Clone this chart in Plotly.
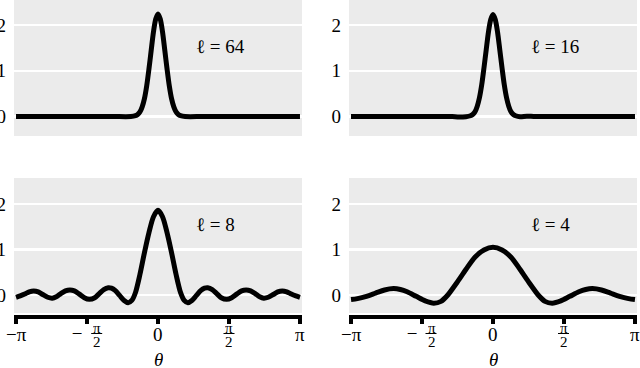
import plotly.graph_objects as go

# ---- data ----
theta_64 = [-3.1416, -2.0, -1.0, -0.6, -0.5, -0.45, -0.4, -0.35, -0.3, -0.25, -0.2, -0.15, -0.1, -0.05, 0.0,
            0.05, 0.1, 0.15, 0.2, 0.25, 0.3, 0.35, 0.4, 0.45, 0.5, 0.6, 1.0, 2.0, 3.1416]
k_64 = [0.0, 0.0, 0.0, 0.0, 0.018, 0.045, 0.10, 0.21, 0.39, 0.67, 1.04, 1.45, 1.85, 2.13, 2.24,
        2.13, 1.85, 1.45, 1.04, 0.67, 0.39, 0.21, 0.10, 0.045, 0.018, 0.0, 0.0, 0.0, 0.0]

theta_16 = [-3.1416, -2.0, -1.0, -0.9, -0.75, -0.6, -0.5, -0.45, -0.4, -0.35, -0.3, -0.25, -0.2, -0.15, -0.1, -0.05, 0.0,
            0.05, 0.1, 0.15, 0.2, 0.25, 0.3, 0.35, 0.4, 0.45, 0.5, 0.6, 0.75, 0.9, 1.0, 2.0, 3.1416]
k_16 = [0.0, 0.0, 0.0, 0.0, -0.012, -0.004, 0.016, 0.045, 0.10, 0.22, 0.41, 0.69, 1.06, 1.46, 1.85, 2.12, 2.23,
        2.12, 1.85, 1.46, 1.06, 0.69, 0.41, 0.22, 0.10, 0.045, 0.016, -0.004, 0.008, 0.0, 0.0, 0.0, 0.0]

theta_8 = [-3.1416, -3.05, -2.95, -2.85, -2.75, -2.65, -2.55, -2.44, -2.34, -2.25, -2.15, -2.05, -1.95, -1.85, -1.74,
           -1.63, -1.52, -1.4, -1.3, -1.2, -1.1, -1.03, -0.95, -0.85, -0.75, -0.66, -0.58, -0.5, -0.4, -0.3, -0.2,
           -0.1, 0.0, 0.1, 0.2, 0.3, 0.4, 0.5, 0.58, 0.66, 0.75, 0.85, 0.95, 1.03, 1.1, 1.2, 1.3, 1.4, 1.52, 1.63,
           1.74, 1.85, 1.95, 2.05, 2.15, 2.25, 2.34, 2.44, 2.55, 2.65, 2.75, 2.85, 2.95, 3.05, 3.1416]
k_8 = [-0.05, -0.02, 0.02, 0.07, 0.09, 0.07, 0.01, -0.05, -0.07, -0.04, 0.03, 0.09, 0.11, 0.09, 0.02,
       -0.06, -0.095, -0.06, 0.03, 0.12, 0.16, 0.15, 0.10, -0.01, -0.12, -0.17, -0.12, 0.05, 0.45, 0.93, 1.37,
       1.72, 1.86, 1.72, 1.37, 0.93, 0.45, 0.05, -0.12, -0.17, -0.12, -0.01, 0.10, 0.15, 0.16, 0.12, 0.03, -0.06,
       -0.095, -0.06, 0.02, 0.09, 0.11, 0.09, 0.03, -0.04, -0.07, -0.05, 0.01, 0.07, 0.09, 0.07, 0.02, -0.02, -0.05]

theta_4 = [-3.1416, -3.0, -2.8, -2.6, -2.4, -2.2, -2.05, -1.9, -1.7, -1.5, -1.31, -1.15, -1.0, -0.8, -0.6, -0.4,
           -0.2, 0.0, 0.2, 0.4, 0.6, 0.8, 1.0, 1.15, 1.31, 1.5, 1.7, 1.9, 2.05, 2.2, 2.4, 2.6, 2.8, 3.0, 3.1416]
k_4 = [-0.10, -0.08, -0.03, 0.04, 0.11, 0.14, 0.12, 0.07, -0.03, -0.13, -0.18, -0.14, 0.0, 0.27, 0.56, 0.83,
       0.99, 1.05, 0.99, 0.83, 0.56, 0.27, 0.0, -0.14, -0.18, -0.13, -0.03, 0.07, 0.12, 0.14, 0.11, 0.04, -0.03,
       -0.08, -0.10]

panel_labels = ["ℓ = 64", "ℓ = 16", "ℓ = 8", "ℓ = 4"]
y_ticks = [0, 1, 2]
x_tick_vals = [-3.14159265, -1.57079633, 0.0, 1.57079633, 3.14159265]

series = [(theta_64, k_64), (theta_16, k_16), (theta_8, k_8), (theta_4, k_4)]

# ---- layout geometry ----
W, H = 640, 368
ML, MR, MT, MB = 14, 3, 0, 53
PW = W - ML - MR
PH = H - MT - MB
GRAY = "#EBEBEB"
FONT = "Liberation Serif, Times New Roman, DejaVu Serif, serif"

xdom_left = [0, 288 / PW]
xdom_right = [335 / PW, 1]
ydom_top = [(PH - 136) / PH, 1]
ydom_bot = [0, 137 / PH]
xr = [-3.1416 - 0.045, 3.1416 + 0.045]
yr_top = [-0.426, 2.546]
yr_bot = [-0.44, 2.571]

fig = go.Figure()
for i, (t, k) in enumerate(series):
    sfx = "" if i == 0 else str(i + 1)
    fig.add_trace(go.Scatter(x=t, y=k, mode="lines",
                             line=dict(color="black", width=5, shape="spline", smoothing=0.8),
                             xaxis="x" + sfx, yaxis="y" + sfx, showlegend=False, hoverinfo="skip"))

axis_common_y = dict(tickvals=y_ticks, ticktext=[str(v) for v in y_ticks], showgrid=True,
                     gridcolor="white", gridwidth=2.5, zeroline=False, showline=False, ticks="",
                     tickfont=dict(family=FONT, size=19, color="black"), ticklabelstandoff=7,
                     automargin=False)
top_x = dict(range=xr, showgrid=False, zeroline=False, showline=False, ticks="", showticklabels=False,
             automargin=False)
bot_x = dict(range=xr, showgrid=False, zeroline=False, showline=True, linecolor="black", linewidth=4,
             ticks="outside", tickvals=x_tick_vals, tickwidth=4, ticklen=5, tickcolor="black",
             showticklabels=False, automargin=False)

fig.update_layout(
    width=W, height=H, margin=dict(l=ML, r=MR, t=MT, b=MB, autoexpand=False),
    paper_bgcolor="white", plot_bgcolor=GRAY, showlegend=False,
    font=dict(family=FONT, color="black"),
    xaxis=dict(domain=xdom_left, anchor="y", **top_x),
    xaxis2=dict(domain=xdom_right, anchor="y2", **top_x),
    xaxis3=dict(domain=xdom_left, anchor="y3", **bot_x),
    xaxis4=dict(domain=xdom_right, anchor="y4", **bot_x),
    yaxis=dict(domain=ydom_top, anchor="x", range=yr_top, **axis_common_y),
    yaxis2=dict(domain=ydom_top, anchor="x2", range=yr_top, **axis_common_y),
    yaxis3=dict(domain=ydom_bot, anchor="x3", range=yr_bot, **axis_common_y),
    yaxis4=dict(domain=ydom_bot, anchor="x4", range=yr_bot, **axis_common_y),
)

# white strip separating gray panel from the axis line in bottom panels
for ax in ["3", "4"]:
    fig.add_shape(type="rect", xref="x" + ax + " domain", yref="y" + ax + " domain",
                  x0=0, x1=1, y0=0, y1=2 / 137, fillcolor="white", line=dict(width=0), layer="below")

annots = []
# panel labels
for i, lab in enumerate(panel_labels):
    sfx = "" if i == 0 else str(i + 1)
    annots.append(dict(text=lab, x=0.8, y=1.54, xref="x" + sfx, yref="y" + sfx, xanchor="left",
                       yanchor="middle", showarrow=False, font=dict(family=FONT, size=19, color="black")))

big = dict(family=FONT, size=19, color="black")
small = dict(family=FONT, size=15, color="black")
for ax in ["3", "4"]:
    xref = "x" + ax
    # plain tick labels
    for xv, txt in [(x_tick_vals[0], "−π"), (x_tick_vals[2], "0"), (x_tick_vals[4], "π")]:
        annots.append(dict(text=txt, x=xv, y=0, xref=xref, yref="paper", yshift=-19,
                           xanchor="center", yanchor="middle", showarrow=False, font=big))
    # -pi/2 and pi/2 as stacked fractions
    annots.append(dict(text="−", x=x_tick_vals[1], y=0, xref=xref, yref="paper", yshift=-18, xshift=-10.5,
                       xanchor="center", yanchor="middle", showarrow=False, font=big, width=10))
    for xv, xs in [(x_tick_vals[1], 9.5), (x_tick_vals[3], 0)]:
        annots.append(dict(text="π", x=xv, y=0, xref=xref, yref="paper", yshift=-12, xshift=xs,
                           xanchor="center", yanchor="middle", showarrow=False, font=small, height=11))
        annots.append(dict(text="2", x=xv, y=0, xref=xref, yref="paper", yshift=-26, xshift=xs,
                           xanchor="center", yanchor="middle", showarrow=False, font=small, height=13))
    # theta
    annots.append(dict(text="<i>θ</i>", x=0, y=0, xref=xref, yref="paper", yshift=-44,
                       xanchor="center", yanchor="middle", showarrow=False, font=big, height=17))
fig.update_layout(annotations=annots)

# fraction bars (paper coords)
def px_to_paper_x(px):
    return (px - ML) / PW

def py_to_paper_y(py):
    return (H - MB - py) / PH

for centre in [96.7, 229.0, 431.0, 563.5]:
    fig.add_shape(type="line", xref="paper", yref="paper",
                  x0=px_to_paper_x(centre - 5.5), x1=px_to_paper_x(centre + 5.5),
                  y0=py_to_paper_y(333.5), y1=py_to_paper_y(333.5),
                  line=dict(color="black", width=1))

fig.write_html("out.html", config={"displayModeBar": False, "staticPlot": True},
               post_script="document.body.style.margin='0px';document.body.style.padding='0px';"
                           "document.body.style.overflow='hidden';")
